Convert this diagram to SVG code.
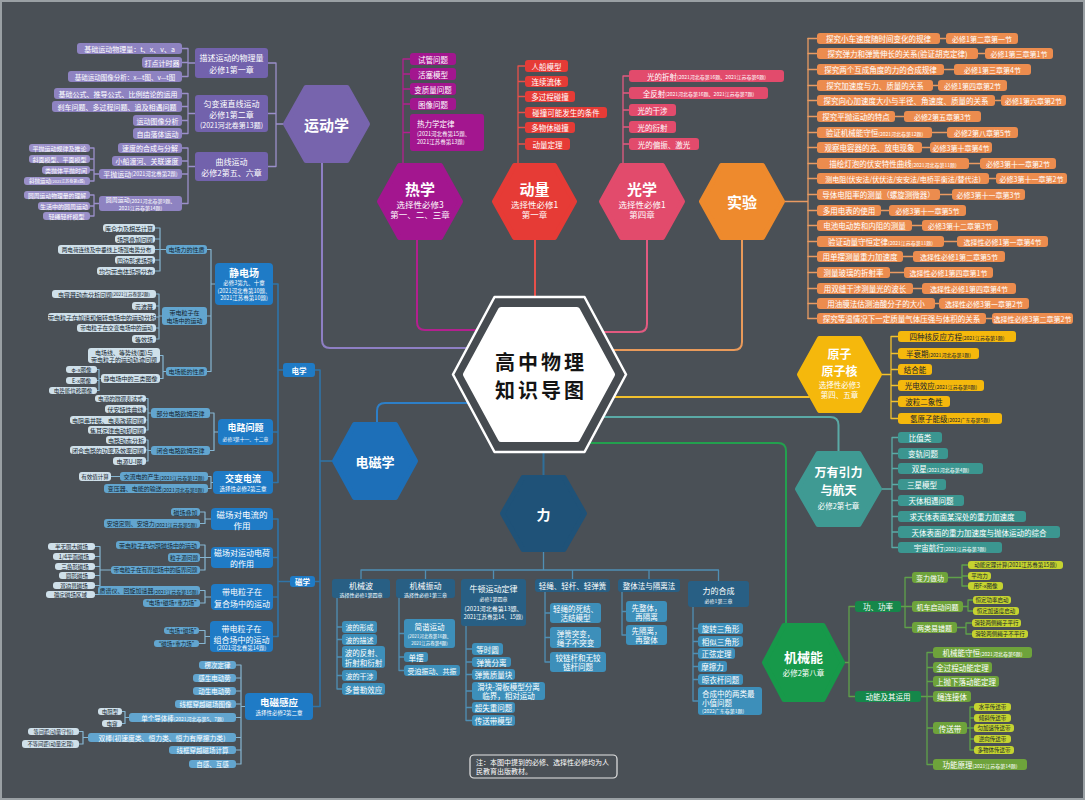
<svg xmlns="http://www.w3.org/2000/svg" width="1085" height="800" viewBox="0 0 1085 800">
<defs><style>
text{font-family:"Noto Sans CJK SC","Noto Sans",sans-serif;text-anchor:middle;dominant-baseline:central;fill:#fff}
.dk{fill:#15232c}
.bd{font-weight:bold}
.st{text-anchor:start}
.s45{font-size:4.5px}.s5{font-size:5px}.s55{font-size:5.5px}.s6{font-size:6px}.s65{font-size:6.5px}.s7{font-size:7px}.s75{font-size:7.5px}.s8{font-size:8px}.s9{font-size:9px}
.hx{stroke-width:5;stroke-linejoin:round}
.p1{fill:#7262ac}.p2{fill:#8e83c1}.p3{fill:#9a90c9}
.hm{fill:#a3168f}.rd{fill:#e63b36}.pk{fill:#e24b6c}.oe{fill:#ec8c4e}.yl{fill:#f5b80c}.tl{fill:#3b9690}
.g1{fill:#15874a}.g2{fill:#6ea33b}.g3{fill:#c5d330}
.b1{fill:#1f7bc6}.b2{fill:#62a5cf}.b3{fill:#cfe0ea}
.f1{fill:#285f84}.f2{fill:#3d8fba}
</style></defs>
<rect width="1085" height="800" fill="#4a5056"/>
<rect x="1" y="1" width="1083" height="798" fill="none" stroke="#9aa0a4" stroke-width="2"/>

<g id="connectors" fill="none" stroke-linecap="round" stroke-linejoin="round">
<g stroke-width="2">
<path stroke="#8e7fc4" d="M322,163 V340 Q322,348 330,348 H467"/>
<path stroke="#b3208f" d="M417,240 V322 Q417,330 425,330 H477"/>
<path stroke="#e8504a" d="M535,240 V297"/>
<path stroke="#e25a80" d="M647,240 V324 Q647,332 639,332 H603"/>
<path stroke="#e99a5a" d="M742,240 V342 Q742,350 734,350 H613"/>
<path stroke="#f2c12e" d="M614,397 H809"/>
<path stroke="#5aaaa6" d="M603,417 H830 Q838.5,417 838.5,425 V451"/>
<path stroke="#23a04e" d="M589,443 H778 Q786,443 786,451 V624"/>
<path stroke="#2d7fc8" d="M468,403 H385 Q377,403 377,411 V423"/>
<path stroke="#2f6f9a" d="M543.5,452 V476"/>
</g>
<g stroke="#9b8fca" stroke-width="1.3">
<path d="M276,63 V166.5 M268,63 H276 M268,113.5 H276 M268,166.5 H276 M276,124 H285"/>
<path d="M188,48.5 V76.5 M182,48.5 H188 M182,62.5 H188 M182,76.5 H188 M188,63 H195"/>
<path d="M188,93.5 V133.5 M182,93.5 H188 M182,106.5 H188 M182,120.5 H188 M182,133.5 H188 M188,113.5 H195"/>
<path d="M188,148 V203.5 M182,148 H188 M182,161 H188 M182,174 H188 M182,203.5 H188 M188,166.5 H195"/>
<path d="M94,148 V181 M90,148 H94 M90,159 H94 M90,170 H94 M90,181 H94 M94,174 H99"/>
<path d="M94,195 V216 M90,195 H94 M90,206 H94 M90,216 H94 M94,203.5 H99"/>
</g>
<g stroke="#b3208f" stroke-width="1.3"><path d="M403,59 V165 M403,59 H410 M403,74 H410 M403,89 H410 M403,104 H410 M403,132.5 H410"/></g>
<g stroke="#e8504a" stroke-width="1.3"><path d="M518,66 V165 M518,66 H525 M518,81.5 H525 M518,96.5 H525 M518,112.5 H525 M518,127.5 H525 M518,144 H525"/></g>
<g stroke="#e25a80" stroke-width="1.3"><path d="M623,76 V165 M623,76 H629 M623,93 H629 M623,110 H629 M623,127 H629 M623,144 H629"/></g>
<g stroke="#e99a62" stroke-width="1.3">
<path d="M785,201.5 H808 M808,38.5 V318.5"/>
<path d="M808,38.5 H817 M808,53.5 H817 M808,69.5 H817 M808,85.5 H817 M808,100.5 H817 M808,116.5 H817 M808,132.5 H817 M808,147.5 H817 M808,163.5 H817 M808,178.5 H817 M808,194.5 H817 M808,210.5 H817 M808,225.5 H817 M808,241.5 H817 M808,256.5 H817 M808,272.5 H817 M808,288.5 H817 M808,303.5 H817 M808,318.5 H817"/>
<path d="M940,38.5 H946 M978,53.5 H985 M944,69.5 H954 M933,85.5 H938 M995,100.5 H1001 M895,116.5 H904 M932,132.5 H947 M922,147.5 H930 M969,163.5 H980 M989,178.5 H996 M940,194.5 H952 M881,210.5 H889 M912,225.5 H922 M944,241.5 H957 M903,256.5 H913 M890,272.5 H904 M913,288.5 H922 M935,303.5 H939 M986,318.5 H992"/>
</g>
<g stroke="#f2c12e" stroke-width="1.3"><path d="M882,374.5 H891 M891,336.5 V418.5 M891,336.5 H898 M891,353.5 H898 M891,369.5 H898 M891,385.5 H898 M891,401.5 H898 M891,418.5 H898"/></g>
<g stroke="#5aaaa6" stroke-width="1.3"><path d="M882,489 H892 M892,437.5 V547.5 M892,437.5 H898 M892,453.5 H898 M892,468.5 H898 M892,484.5 H898 M892,500.5 H898 M892,516.5 H898 M892,532 H898 M892,547.5 H898"/></g>
<g stroke="#5fa14a" stroke-width="1.3">
<path d="M845,662.5 H849 M849,606.5 V696.5 M849,606.5 H855 M849,696.5 H855"/>
<path d="M901,606.5 H905 M905,577.5 V627.5 M905,577.5 H912 M905,606.5 H912 M905,627.5 H912"/>
<path d="M948,577.5 H962 M962,565 V586 M962,565 H968 M962,576 H968 M962,586 H968"/>
<path d="M963,606.5 H968 M968,600 V611 M968,600 H973 M968,611 H973"/>
<path d="M957,627.5 H966 M966,623 V634 M966,623 H972 M966,634 H972"/>
<path d="M921,696.5 H927 M927,652.5 V764.5 M927,652.5 H933 M927,667.5 H933 M927,681.5 H933 M927,696.5 H933 M927,728 H933 M927,764.5 H933"/>
<path d="M967,728 H970 M970,707 V750 M970,707 H974 M970,718 H974 M970,728 H974 M970,739 H974 M970,750 H974"/>
</g>
<g stroke="#2f74a8" stroke-width="1.6">
<path d="M320,370 V706.5 M315,370 H320 M315,581.5 H320 M313,706.5 H320 M320,461 H335"/>
<path d="M278,284 V482.5 M278,370 H283 M273,284 H278 M273,432 H278 M273,482.5 H278"/>
<path d="M278,519 V636.5 M278,581.5 H290 M273,519 H278 M273,557.5 H278 M273,597 H278 M273,636.5 H278"/>
</g>
<g stroke="#86b6d2" stroke-width="1.2">
<path d="M211,249.5 V371.5 M211,284 H215 M207,249.5 H211 M207,316 H211 M207,371.5 H211"/>
<path d="M160,228 V271 M160,249.5 H166 M155,228 H160 M155,239 H160 M155,249.5 H160 M155,260 H160 M155,271 H160"/>
<path d="M159,294 V339 M159,316 H162 M156,294 H159 M156,306 H159 M156,317 H159 M156,328 H159 M156,339 H159"/>
<path d="M163,355.5 V378.5 M163,371.5 H166 M160,355.5 H163 M160,378.5 H163"/>
<path d="M99,369.5 V390.5 M99,378.5 H101 M97,369.5 H99 M97,380.5 H99 M97,390.5 H99"/>
<path d="M214,413 V450.5 M214,432 H218 M210,413 H214 M210,450.5 H214"/>
<path d="M148,398.5 V430 M148,413 H151 M146,398.5 H148 M146,409 H148 M146,420 H148 M146,430 H148"/>
<path d="M148,440 V461 M148,450.5 H151 M146,440 H148 M146,450 H148 M146,461 H148"/>
<path d="M211,476.5 V488.5 M211,482.5 H213 M208,476.5 H211 M208,488.5 H211 M111,476.5 H120"/>
<path d="M205,512 V523.5 M205,519 H211 M200,512 H205 M200,523.5 H205"/>
<path d="M205,545 V570 M205,557.5 H211 M200,545 H205 M200,557.5 H205 M200,570 H205"/>
<path d="M100,546.5 V594.5 M100,570 H111 M95,546.5 H100 M95,556.5 H100 M95,566.5 H100 M95,575.5 H100 M95,585.5 H100 M95,594.5 H100"/>
<path d="M205,590.5 V603 M205,597 H211 M200,590.5 H205 M200,603 H205"/>
<path d="M205,630.5 V643.5 M205,636.5 H210 M199,630.5 H205 M199,643.5 H205"/>
<path d="M241,665 V764 M241,706.5 H245 M236,665 H241 M236,678 H241 M236,691 H241 M236,704 H241 M236,717.5 H241 M236,737.5 H241 M236,750 H241 M236,764 H241"/>
<path d="M125,711.5 V723.5 M125,717.5 H129 M122,711.5 H125 M122,723.5 H125"/>
<path d="M83,731.5 V744 M83,737.5 H88 M79,731.5 H83 M79,744 H83"/>
</g>
<g stroke="#4f8fb5" stroke-width="1.3">
<path d="M543.5,549.5 V570 M361,570 H718.5 M361,570 V579 M425.5,570 V579 M493.5,570 V579 M572.5,570 V579 M649,570 V579 M718.5,570 V581"/>
<path d="M337,598 V689 M337,627 H342 M337,639.5 H342 M337,657 H342 M337,675.5 H342 M337,689 H342"/>
<path d="M399,598 V670.5 M399,633.5 H404 M399,657 H404 M399,670.5 H404"/>
<path d="M466,626 V720.5 M466,649 H472 M466,662 H472 M466,674.5 H472 M466,691 H472 M466,707.5 H472 M466,720.5 H472"/>
<path d="M545,592 V662 M545,613 H550 M545,637.5 H550 M545,662 H550"/>
<path d="M622,592 V635 M622,611.5 H626 M622,635 H626"/>
<path d="M693,607 V701 M693,628.5 H698 M693,641.5 H698 M693,653.5 H698 M693,666.5 H698 M693,679.5 H698 M693,701 H698"/>
</g>
</g>

<g id="n-center">
<polygon points="453,374.5 494.5,297 584.5,297 626,374.5 584.5,452 494.5,452" fill="#464b50" stroke="#fff" stroke-width="2.5" stroke-linejoin="round"/>
<polygon points="466,374.5 501,310 577,310 612,374.5 577,439 501,439" fill="#fff" stroke="#fff" stroke-width="6" stroke-linejoin="round"/>
<text x="541" y="361" class="bd" style="font-size:20px;fill:#141414;letter-spacing:3px">高中物理</text>
<text x="541" y="389" class="bd" style="font-size:20px;fill:#141414;letter-spacing:3px">知识导图</text>
</g>

<g id="n-kinematics">
<polygon class="hx" points="285.5,124 306,87.5 347,87.5 367.5,124 347,160.5 306,160.5" fill="#7764ad" stroke="#7764ad"/>
<text x="326.5" y="124" class="bd" style="font-size:15px">运动学</text>
</g>
<g id="k-describe"><rect x="195" y="48" width="73" height="30" rx="3" class="p1"/><text x="231.5" y="57.5" class="s8">描述运动的物理量</text><text x="231.5" y="69.5" class="s8">必修1第一章</text></g>
<g id="k-uniform"><rect x="195" y="95" width="73" height="37" rx="3" class="p1"/><text x="231.5" y="103.5" class="s8">匀变速直线运动</text><text x="231.5" y="114" class="s8">必修1第二章</text><text x="231.5" y="124.5" class="s7">(2021河北卷第13题)</text></g>
<g id="k-curve"><rect x="195" y="152" width="73" height="29" rx="3" class="p1"/><text x="231.5" y="161" class="s8">曲线运动</text><text x="231.5" y="172.5" class="s8">必修2第五、六章</text></g>
<g id="k-l1"><rect x="77" y="43" width="105" height="11" rx="3" class="p2"/><text x="129.5" y="48.5" class="s7">基础运动物理量：t、x、v、a</text></g>
<g id="k-l2"><rect x="142" y="57" width="40" height="11" rx="3" class="p2"/><text x="162" y="62.5" class="s7">打点计时器</text></g>
<g id="k-l3"><rect x="68" y="71" width="114" height="11" rx="3" class="p2"/><text x="125" y="76.5" class="s65">基础运动图像分析：x—t图、v—t图</text></g>
<g id="k-l4"><rect x="54" y="88" width="128" height="11" rx="3" class="p2"/><text x="118" y="93.5" class="s7">基础公式、推导公式、比例结论的运用</text></g>
<g id="k-l5"><rect x="52" y="101" width="130" height="11" rx="3" class="p2"/><text x="117" y="106.5" class="s7">刹车问题、多过程问题、追及相遇问题</text></g>
<g id="k-l6"><rect x="133" y="115" width="49" height="11" rx="3" class="p2"/><text x="157.5" y="120.5" class="s7">运动图像分析</text></g>
<g id="k-l7"><rect x="133" y="128" width="49" height="11" rx="3" class="p2"/><text x="157.5" y="133.5" class="s7">自由落体运动</text></g>
<g id="k-l8"><rect x="118" y="143" width="64" height="10" rx="3" class="p2"/><text x="150" y="148" class="s7">速度的合成与分解</text></g>
<g id="k-l9"><rect x="112" y="156" width="70" height="10" rx="3" class="p2"/><text x="147" y="161" class="s7">小船渡河、关联速度</text></g>
<g id="k-l10"><rect x="99" y="169" width="83" height="10" rx="3" class="p2"/><text x="140.5" y="174" class="s7">平抛运动<tspan class="s55">(2021河北卷第2题)</tspan></text></g>
<g id="k-l11"><rect x="99" y="196" width="83" height="15" rx="3" class="p2"/><text x="140.5" y="199.8" class="s6">圆周运动<tspan class="s5">(2021河北卷第9题、</tspan></text><text x="140.5" y="207.3" class="s5">2021江苏卷第14题)</text></g>
<g id="k-s1"><rect x="29" y="144" width="61" height="8" rx="3" class="p3"/><text x="59.5" y="148" class="s6">平抛运动规律及推论</text></g>
<g id="k-s2"><rect x="29" y="155" width="61" height="8" rx="3" class="p3"/><text x="59.5" y="159" class="s6">斜面模型、平面模型</text></g>
<g id="k-s3"><rect x="42" y="166" width="48" height="8" rx="3" class="p3"/><text x="66" y="170" class="s6">类抛体平抛时间</text></g>
<g id="k-s4"><rect x="24" y="177" width="66" height="8" rx="3" class="p3"/><text x="57" y="181" class="s55">斜抛运动<tspan style="font-size:4px">(2021江苏卷第8题)</tspan></text></g>
<g id="k-s5"><rect x="24" y="191" width="66" height="8" rx="3" class="p3"/><text x="57" y="195" style="font-size:5.8px">圆周运动物理量的理解</text></g>
<g id="k-s6"><rect x="38" y="202" width="52" height="8" rx="3" class="p3"/><text x="64" y="206" class="s6">生活中的圆周运动</text></g>
<g id="k-s7"><rect x="43" y="212" width="47" height="8" rx="3" class="p3"/><text x="66.5" y="216" class="s6">轻绳轻杆模型</text></g>

<g id="n-heat">
<polygon class="hx" points="379.5,201.5 399.5,165.5 440.5,165.5 460.5,201.5 440.5,237.5 399.5,237.5" fill="#a3168f" stroke="#a3168f"/>
<text x="420" y="188" class="bd" style="font-size:15px">热学</text><text x="420" y="203.5" style="font-size:8.5px">选择性必修3</text><text x="420" y="214" style="font-size:8.5px">第一、二、三章</text>
</g>
<g id="h-1"><rect x="410" y="53" width="46" height="12" rx="3" class="hm"/><text x="433" y="59" class="s75">试管问题</text></g>
<g id="h-2"><rect x="410" y="68" width="46" height="12" rx="3" class="hm"/><text x="433" y="74" class="s75">活塞模型</text></g>
<g id="h-3"><rect x="410" y="83" width="46" height="12" rx="3" class="hm"/><text x="433" y="89" class="s75">变质量问题</text></g>
<g id="h-4"><rect x="410" y="98" width="46" height="12" rx="3" class="hm"/><text x="433" y="104" class="s75">图像问题</text></g>
<g id="h-5"><rect x="410" y="114" width="74" height="37" rx="3" class="hm"/><text x="417" y="123" class="s75 st">热力学定律</text><text x="417" y="134" class="s55 st">(2021河北卷第15题、</text><text x="417" y="142" class="s55 st">2021江苏卷第13题)</text></g>

<g id="n-momentum">
<polygon class="hx" points="494.5,201.5 514.5,165.5 554.5,165.5 574.5,201.5 554.5,237.5 514.5,237.5" fill="#e63b36" stroke="#e63b36"/>
<text x="534.5" y="188" class="bd" style="font-size:15px">动量</text><text x="534.5" y="203.5" style="font-size:8.5px">选择性必修1</text><text x="534.5" y="214" style="font-size:8.5px">第一章</text>
</g>
<g id="m-1"><rect x="525" y="60" width="43" height="12" rx="3" class="rd"/><text x="546.5" y="66" class="s75">人船模型</text></g>
<g id="m-2"><rect x="525" y="76" width="43" height="11" rx="3" class="rd"/><text x="546.5" y="81.5" class="s75">连续流体</text></g>
<g id="m-3"><rect x="525" y="91" width="50" height="11" rx="3" class="rd"/><text x="550" y="96.5" class="s75">多过程碰撞</text></g>
<g id="m-4"><rect x="525" y="107" width="82" height="11" rx="3" class="rd"/><text x="566" y="112.5" class="s75">碰撞可能发生的条件</text></g>
<g id="m-5"><rect x="525" y="122" width="50" height="11" rx="3" class="rd"/><text x="550" y="127.5" class="s75">多物体碰撞</text></g>
<g id="m-6"><rect x="525" y="138" width="45" height="12" rx="3" class="rd"/><text x="547.5" y="144" class="s75">动量定理</text></g>

<g id="n-optics">
<polygon class="hx" points="601.5,201.5 621.5,165.5 662.5,165.5 682.5,201.5 662.5,237.5 621.5,237.5" fill="#e24b6c" stroke="#e24b6c"/>
<text x="642" y="188" class="bd" style="font-size:15px">光学</text><text x="642" y="203.5" style="font-size:8.5px">选择性必修1</text><text x="642" y="214" style="font-size:8.5px">第四章</text>
</g>
<g id="o-1"><rect x="629" y="70" width="155" height="12" rx="3" class="pk"/><text x="706.5" y="76" class="s75">光的折射<tspan class="s5">(2021河北卷第16题、2021江苏卷第6题)</tspan></text></g>
<g id="o-2"><rect x="629" y="87" width="139" height="12" rx="3" class="pk"/><text x="698.5" y="93" class="s75">全反射<tspan class="s5">(2021河北卷第16题、2021江苏卷第7题)</tspan></text></g>
<g id="o-3"><rect x="629" y="104" width="47" height="12" rx="3" class="pk"/><text x="652.5" y="110" class="s75">光的干涉</text></g>
<g id="o-4"><rect x="629" y="121" width="47" height="12" rx="3" class="pk"/><text x="652.5" y="127" class="s75">光的衍射</text></g>
<g id="o-5"><rect x="629" y="138" width="70" height="12" rx="3" class="pk"/><text x="664" y="144" class="s75">光的偏振、激光</text></g>

<g id="n-experiment">
<polygon class="hx" points="701.5,201.5 721.5,165.5 762.5,165.5 782.5,201.5 762.5,237.5 721.5,237.5" fill="#ee8a2d" stroke="#ee8a2d"/>
<text x="742" y="201.5" class="bd" style="font-size:15px">实验</text>
</g>
<g id="e-1"><rect x="817" y="33" width="123" height="11" rx="3" class="oe"/><text x="878.5" y="38.5" class="s75">探究小车速度随时间变化的规律</text><rect x="946" y="33" width="72" height="11" rx="3" class="oe"/><text x="982" y="38.5" class="s7">必修1第二章第一节</text></g>
<g id="e-2"><rect x="817" y="48" width="161" height="11" rx="3" class="oe"/><text x="897.5" y="53.5" class="s75">探究弹力和弹簧伸长的关系(验证胡克定律)</text><rect x="985" y="48" width="68" height="11" rx="3" class="oe"/><text x="1019" y="53.5" class="s7">必修1第三章第1节</text></g>
<g id="e-3"><rect x="817" y="64" width="127" height="11" rx="3" class="oe"/><text x="880.5" y="69.5" class="s75">探究两个互成角度的力的合成规律</text><rect x="954" y="64" width="77" height="11" rx="3" class="oe"/><text x="992.5" y="69.5" class="s7">必修1第三章第4节</text></g>
<g id="e-4"><rect x="817" y="80" width="116" height="11" rx="3" class="oe"/><text x="875" y="85.5" class="s75">探究加速度与力、质量的关系</text><rect x="938" y="80" width="69" height="11" rx="3" class="oe"/><text x="972.5" y="85.5" class="s7">必修1第四章第2节</text></g>
<g id="e-5"><rect x="817" y="95" width="178" height="11" rx="3" class="oe"/><text x="906" y="100.5" class="s75">探究向心加速度大小与半径、角速度、质量的关系</text><rect x="1001" y="95" width="65" height="11" rx="3" class="oe"/><text x="1033.5" y="100.5" class="s7">必修1第六章第2节</text></g>
<g id="e-6"><rect x="817" y="111" width="78" height="11" rx="3" class="oe"/><text x="856" y="116.5" class="s75">探究平抛运动的特点</text><rect x="904" y="111" width="77" height="11" rx="3" class="oe"/><text x="942.5" y="116.5" class="s7">必修2第五章第3节</text></g>
<g id="e-7"><rect x="817" y="127" width="115" height="11" rx="3" class="oe"/><text x="874.5" y="132.5" class="s75">验证机械能守恒<tspan class="s5">(2021河北卷第12题)</tspan></text><rect x="947" y="127" width="71" height="11" rx="3" class="oe"/><text x="982.5" y="132.5" class="s7">必修2第八章第5节</text></g>
<g id="e-8"><rect x="817" y="142" width="105" height="11" rx="3" class="oe"/><text x="869.5" y="147.5" class="s75">观察电容器的充、放电现象</text><rect x="930" y="142" width="62" height="11" rx="3" class="oe"/><text x="961" y="147.5" class="s7">必修3第十章第4节</text></g>
<g id="e-9"><rect x="817" y="158" width="152" height="11" rx="3" class="oe"/><text x="893" y="163.5" class="s75">描绘灯泡的伏安特性曲线<tspan class="s5">(2021河北卷第11题)</tspan></text><rect x="980" y="158" width="76" height="11" rx="3" class="oe"/><text x="1018" y="163.5" class="s7">必修3第十一章第2节</text></g>
<g id="e-10"><rect x="817" y="173" width="172" height="11" rx="3" class="oe"/><text x="903" y="178.5" class="s7">测电阻(伏安法/伏伏法/安安法/电桥平衡法/替代法)</text><rect x="996" y="173" width="71" height="11" rx="3" class="oe"/><text x="1031.5" y="178.5" class="s7">必修3第十一章第2节</text></g>
<g id="e-11"><rect x="817" y="189" width="123" height="11" rx="3" class="oe"/><text x="878.5" y="194.5" class="s75">导体电阻率的测量（螺旋测微器）</text><rect x="952" y="189" width="73" height="11" rx="3" class="oe"/><text x="988.5" y="194.5" class="s7">必修3第十一章第3节</text></g>
<g id="e-12"><rect x="817" y="205" width="64" height="11" rx="3" class="oe"/><text x="849" y="210.5" class="s75">多用电表的使用</text><rect x="889" y="205" width="77" height="11" rx="3" class="oe"/><text x="927.5" y="210.5" class="s7">必修3第十一章第5节</text></g>
<g id="e-13"><rect x="817" y="220" width="95" height="11" rx="3" class="oe"/><text x="864.5" y="225.5" class="s75">电池电动势和内阻的测量</text><rect x="922" y="220" width="76" height="11" rx="3" class="oe"/><text x="960" y="225.5" class="s7">必修3第十二章第3节</text></g>
<g id="e-14"><rect x="817" y="236" width="127" height="11" rx="3" class="oe"/><text x="880.5" y="241.5" class="s75">验证动量守恒定律<tspan class="s5">(2021江苏卷第11题)</tspan></text><rect x="957" y="236" width="91" height="11" rx="3" class="oe"/><text x="1002.5" y="241.5" class="s7">选择性必修1第一章第4节</text></g>
<g id="e-15"><rect x="817" y="251" width="86" height="11" rx="3" class="oe"/><text x="860" y="256.5" class="s75">用单摆测量重力加速度</text><rect x="913" y="251" width="92" height="11" rx="3" class="oe"/><text x="959" y="256.5" class="s7">选择性必修1第二章第5节</text></g>
<g id="e-16"><rect x="817" y="267" width="73" height="11" rx="3" class="oe"/><text x="853.5" y="272.5" class="s75">测量玻璃的折射率</text><rect x="904" y="267" width="89" height="11" rx="3" class="oe"/><text x="948.5" y="272.5" class="s7">选择性必修1第四章第1节</text></g>
<g id="e-17"><rect x="817" y="283" width="96" height="11" rx="3" class="oe"/><text x="865" y="288.5" class="s75">用双缝干涉测量光的波长</text><rect x="922" y="283" width="94" height="11" rx="3" class="oe"/><text x="969" y="288.5" class="s7">选择性必修1第四章第4节</text></g>
<g id="e-18"><rect x="817" y="298" width="118" height="11" rx="3" class="oe"/><text x="876" y="303.5" class="s75">用油膜法估测油酸分子的大小</text><rect x="939" y="298" width="90" height="11" rx="3" class="oe"/><text x="984" y="303.5" class="s7">选择性必修3第一章第2节</text></g>
<g id="e-19"><rect x="817" y="313" width="169" height="11" rx="3" class="oe"/><text x="901.5" y="318.5" class="s75">探究等温情况下一定质量气体压强与体积的关系</text><rect x="992" y="313" width="81" height="11" rx="3" class="oe"/><text x="1032.5" y="318.5" class="s7">选择性必修3第二章第2节</text></g>

<g id="n-atom">
<polygon class="hx" points="799.5,374.5 819.5,338.5 859.5,338.5 879.5,374.5 859.5,410.5 819.5,410.5" fill="#f5b80c" stroke="#f5b80c"/>
<text x="839.5" y="353.5" class="bd" style="font-size:12px">原子</text><text x="839.5" y="370.5" class="bd" style="font-size:12px">原子核</text><text x="839.5" y="384.5" class="s75">选择性必修3</text><text x="839.5" y="394" class="s75">第四、五章</text>
</g>
<g id="a-1"><rect x="898" y="331" width="118" height="11" rx="3" class="yl"/><text x="957" y="336.5" class="s75 dk">四种核反应方程<tspan class="s5">(2021江苏卷第1题)</tspan></text></g>
<g id="a-2"><rect x="898" y="348" width="81" height="11" rx="3" class="yl"/><text x="938.5" y="353.5" class="s75 dk">半衰期<tspan class="s5">(2021河北卷第1题)</tspan></text></g>
<g id="a-3"><rect x="898" y="364" width="34" height="11" rx="3" class="yl"/><text x="915" y="369.5" class="s75 dk">结合能</text></g>
<g id="a-4"><rect x="898" y="380" width="86" height="11" rx="3" class="yl"/><text x="941" y="385.5" class="s75 dk">光电效应<tspan class="s5">(2021江苏卷第8题)</tspan></text></g>
<g id="a-5"><rect x="898" y="396" width="52" height="11" rx="3" class="yl"/><text x="924" y="401.5" class="s75 dk">波粒二象性</text></g>
<g id="a-6"><rect x="898" y="413" width="104" height="11" rx="3" class="yl"/><text x="950" y="418.5" class="s75 dk">氢原子能级<tspan class="s5">(2022广东卷第5题)</tspan></text></g>

<g id="n-gravity">
<polygon class="hx" points="797.5,489 818,453.5 859,453.5 879.5,489 859,524.5 818,524.5" fill="#3f9a93" stroke="#3f9a93"/>
<text x="838.5" y="471.5" class="bd" style="font-size:12px">万有引力</text><text x="838.5" y="489.5" class="bd" style="font-size:12px">与航天</text><text x="838.5" y="505" class="s75">必修2第七章</text>
</g>
<g id="w-1"><rect x="898" y="432" width="44" height="11" rx="3" class="tl"/><text x="920" y="437.5" class="s75">比值类</text></g>
<g id="w-2"><rect x="898" y="448" width="50" height="11" rx="3" class="tl"/><text x="923" y="453.5" class="s75">变轨问题</text></g>
<g id="w-3"><rect x="898" y="463" width="85" height="11" rx="3" class="tl"/><text x="940.5" y="468.5" class="s75">双星<tspan class="s5">(2021河北卷第4题)</tspan></text></g>
<g id="w-4"><rect x="898" y="479" width="48" height="11" rx="3" class="tl"/><text x="922" y="484.5" class="s75">三星模型</text></g>
<g id="w-5"><rect x="898" y="495" width="66" height="11" rx="3" class="tl"/><text x="931" y="500.5" class="s75">天体相遇问题</text></g>
<g id="w-6"><rect x="898" y="511" width="128" height="11" rx="3" class="tl"/><text x="962" y="516.5" class="s75">求天体表面某深处的重力加速度</text></g>
<g id="w-7"><rect x="898" y="526" width="162" height="12" rx="3" class="tl"/><text x="979" y="532" class="s75">天体表面的重力加速度与抛体运动的综合</text></g>
<g id="w-8"><rect x="898" y="542" width="104" height="11" rx="3" class="tl"/><text x="950" y="547.5" class="s75">宇宙航行<tspan class="s5">(2021江苏卷第3题)</tspan></text></g>

<g id="n-mech">
<polygon class="hx" points="764.5,662.5 784,625.5 823,625.5 842.5,662.5 823,699.5 784,699.5" fill="#17994a" stroke="#17994a"/>
<text x="803.5" y="656" class="bd" style="font-size:13px">机械能</text><text x="803.5" y="672" class="s75">必修2第八章</text>
</g>
<g id="me-1"><rect x="855" y="601" width="46" height="11" rx="3" class="g1"/><text x="878" y="606.5" class="s75">功、功率</text></g>
<g id="me-2"><rect x="855" y="691" width="66" height="11" rx="3" class="g1"/><text x="888" y="696.5" class="s75">动能及其运用</text></g>
<g id="me-3"><rect x="912" y="572" width="36" height="11" rx="3" class="g2"/><text x="930" y="577.5" class="s7">变力做功</text></g>
<g id="me-4"><rect x="912" y="601" width="51" height="11" rx="3" class="g2"/><text x="937.5" y="606.5" class="s7">机车启动问题</text></g>
<g id="me-5"><rect x="912" y="622" width="45" height="11" rx="3" class="g2"/><text x="934.5" y="627.5" class="s7">两类易错题</text></g>
<g id="me-6"><rect x="968" y="561" width="95" height="8" rx="3" class="g3"/><text x="1015.5" y="565" class="s55 dk">动能定理计算(2021江苏卷第15题)</text></g>
<g id="me-7"><rect x="968" y="572" width="23" height="8" rx="3" class="g3"/><text x="979.5" y="576" class="s55 dk">平均力</text></g>
<g id="me-8"><rect x="968" y="582" width="35" height="8" rx="3" class="g3"/><text x="985.5" y="586" class="s55 dk">用F-x图像</text></g>
<g id="me-9"><rect x="973" y="596" width="38" height="8" rx="3" class="g3"/><text x="992" y="600" class="s55 dk">恒定功率启动</text></g>
<g id="me-10"><rect x="973" y="607" width="46" height="8" rx="3" class="g3"/><text x="996" y="611" class="s55 dk">恒定加速度启动</text></g>
<g id="me-11"><rect x="972" y="619" width="49" height="8" rx="3" class="g3"/><text x="996.5" y="623" class="s55 dk">滑轮两侧绳子平行</text></g>
<g id="me-12"><rect x="972" y="630" width="56" height="8" rx="3" class="g3"/><text x="1000" y="634" class="s55 dk">滑轮两侧绳子不平行</text></g>
<g id="me-13"><rect x="933" y="647" width="99" height="11" rx="3" class="g2"/><text x="982.5" y="652.5" class="s75">机械能守恒<tspan class="s5">(2021河北卷第6题)</tspan></text></g>
<g id="me-14"><rect x="933" y="662" width="59" height="11" rx="3" class="g2"/><text x="962.5" y="667.5" class="s75">全过程动能定理</text></g>
<g id="me-15"><rect x="933" y="676" width="66" height="11" rx="3" class="g2"/><text x="966" y="681.5" class="s75">上抛下落动能定理</text></g>
<g id="me-16"><rect x="933" y="691" width="38" height="11" rx="3" class="g2"/><text x="952" y="696.5" class="s75">绳连接体</text></g>
<g id="me-17"><rect x="933" y="722" width="34" height="12" rx="3" class="g2"/><text x="950" y="728" class="s75">传送带</text></g>
<g id="me-18"><rect x="933" y="759" width="94" height="11" rx="3" class="g2"/><text x="980" y="764.5" class="s75">功能原理<tspan class="s5">(2021江苏卷第14题)</tspan></text></g>
<g id="me-19"><rect x="974" y="703" width="37" height="8" rx="3" class="g3"/><text x="992.5" y="707" class="s55 dk">水平传送带</text></g>
<g id="me-20"><rect x="974" y="714" width="37" height="8" rx="3" class="g3"/><text x="992.5" y="718" class="s55 dk">倾斜传送带</text></g>
<g id="me-21"><rect x="974" y="724" width="40" height="8" rx="3" class="g3"/><text x="994" y="728" class="s55 dk">匀加速传送带</text></g>
<g id="me-22"><rect x="974" y="735" width="37" height="8" rx="3" class="g3"/><text x="992.5" y="739" class="s55 dk">逆向传送带</text></g>
<g id="me-23"><rect x="974" y="746" width="40" height="8" rx="3" class="g3"/><text x="994" y="750" class="s55 dk">多物体传送带</text></g>

<g id="n-em">
<polygon class="hx" points="334.5,461 354.5,424.5 395.5,424.5 415.5,461 395.5,497.5 354.5,497.5" fill="#1d6fb8" stroke="#1d6fb8"/>
<text x="375" y="461" class="bd" style="font-size:13px">电磁学</text>
</g>
<g id="em-elec"><rect x="283" y="363" width="32" height="14" rx="3" class="b1"/><text x="299" y="370" class="s75 bd">电学</text></g>
<g id="em-mag"><rect x="290" y="576" width="25" height="11" rx="3" class="b1"/><text x="302.5" y="581.5" class="s75 bd">磁学</text></g>
<g id="em-1"><rect x="215" y="263" width="58" height="42" rx="4" class="b1"/><text x="244" y="272" class="bd" style="font-size:10px">静电场</text><text x="244" y="282.5" class="s55">必修3第九、十章</text><text x="244" y="290.5" class="s55">(2021河北卷第10题、</text><text x="244" y="298" class="s55">2021江苏卷第10题)</text></g>
<g id="em-2"><rect x="218" y="419" width="55" height="26" rx="4" class="b1"/><text x="245.5" y="427.5" class="s9 bd">电路问题</text><text x="245.5" y="438.5" style="font-size:4.8px">必修3第十一、十二章</text></g>
<g id="em-3"><rect x="213" y="471" width="60" height="23" rx="4" class="b1"/><text x="243" y="478.5" class="s9 bd">交变电流</text><text x="243" y="488.5" class="s55">选择性必修2第三章</text></g>
<g id="em-4"><rect x="211" y="508" width="62" height="22" rx="4" class="b1"/><text x="242" y="514" style="font-size:8.5px">磁场对电流的</text><text x="242" y="524.5" style="font-size:8.5px">作用</text></g>
<g id="em-5"><rect x="211" y="547" width="62" height="21" rx="4" class="b1"/><text x="242" y="552.5" class="s8">磁场对运动电荷</text><text x="242" y="563" class="s8">的作用</text></g>
<g id="em-6"><rect x="211" y="584" width="62" height="26" rx="4" class="b1"/><text x="242" y="591" class="s8">带电粒子在</text><text x="242" y="603" class="s8">复合场中的运动</text></g>
<g id="em-7"><rect x="210" y="621" width="63" height="31" rx="4" class="b1"/><text x="241.5" y="628" class="s8">带电粒子在</text><text x="241.5" y="639" class="s8">组合场中的运动</text><text x="241.5" y="648" class="s55">(2021河北卷第14题)</text></g>
<g id="em-8"><rect x="245" y="693" width="68" height="27" rx="4" class="b1"/><text x="279" y="701.5" class="bd" style="font-size:9.5px">电磁感应</text><text x="279" y="713" class="s55">选择性必修2第二章</text></g>

<g id="es-1"><rect x="166" y="245" width="41" height="9" rx="3" class="b2"/><text x="186.5" y="249.5" class="s6 dk">电场力的性质</text></g>
<g id="es-2"><rect x="162" y="307" width="45" height="18" rx="3" class="b2"/><text x="184.5" y="312" class="s6 dk">带电粒子在</text><text x="184.5" y="320.5" class="s6 dk">电场中的运动</text></g>
<g id="es-3"><rect x="166" y="367" width="41" height="9" rx="3" class="b2"/><text x="186.5" y="371.5" class="s6 dk">电场能的性质</text></g>
<g id="es-4"><rect x="151" y="408" width="59" height="10" rx="3" class="b2"/><text x="180.5" y="413" class="s6 dk">部分电路欧姆定律</text></g>
<g id="es-5"><rect x="151" y="446" width="59" height="9" rx="3" class="b2"/><text x="180.5" y="450.5" class="s6 dk">闭合电路欧姆定律</text></g>
<g id="es-6"><rect x="120" y="472" width="88" height="9" rx="3" class="b2"/><text x="164" y="476.5" class="s6 dk">交流电的产生<tspan class="s5">(2021江苏卷第12题)</tspan></text></g>
<g id="es-7"><rect x="104" y="484" width="104" height="9" rx="3" class="b2"/><text x="156" y="488.5" class="s6 dk">变压器、电能的输送<tspan class="s5">(2021河北卷第8题)</tspan></text></g>
<g id="es-8"><rect x="171" y="508" width="29" height="8" rx="3" class="b2"/><text x="185.5" y="512" class="s6 dk">磁场叠加</text></g>
<g id="es-9"><rect x="104" y="519" width="96" height="9" rx="3" class="b2"/><text x="152" y="523.5" class="s6 dk">安培定则、安培力<tspan class="s5">(2021江苏卷第5题)</tspan></text></g>
<g id="es-10"><rect x="116" y="541" width="84" height="8" rx="3" class="b2"/><text x="158" y="545" class="s6 dk">带电粒子在匀强磁场中的运动</text></g>
<g id="es-11"><rect x="168" y="553" width="32" height="9" rx="3" class="b2"/><text x="184" y="557.5" style="font-size:5.6px" class="dk">粒子源问题</text></g>
<g id="es-12"><rect x="111" y="566" width="89" height="8" rx="3" class="b2"/><text x="155.5" y="570" style="font-size:5.6px" class="dk">带电粒子在有界磁场中的临界问题</text></g>
<g id="es-13"><rect x="98" y="586" width="102" height="9" rx="3" class="b2"/><text x="149" y="590.5" class="s6 dk">质谱仪、回旋加速器<tspan class="s5">(2021江苏卷第15题)</tspan></text></g>
<g id="es-14"><rect x="143" y="599" width="57" height="8" rx="3" class="b2"/><text x="171.5" y="603" style="font-size:5.6px" class="dk">“电场+磁场+重力场”</text></g>
<g id="es-15"><rect x="164" y="627" width="35" height="7" rx="3" class="b2"/><text x="181.5" y="630.5" class="s55 dk">“电场+磁场”</text></g>
<g id="es-16"><rect x="154" y="640" width="45" height="7" rx="3" class="b2"/><text x="176.5" y="643.5" class="s55 dk">“磁场+重力场”</text></g>
<g id="es-17"><rect x="199" y="661" width="37" height="8" rx="3" class="b2"/><text x="217.5" y="665" class="s65">楞次定律</text></g>
<g id="es-18"><rect x="193" y="674" width="43" height="8" rx="3" class="b2"/><text x="214.5" y="678" class="s65">感生电动势</text></g>
<g id="es-19"><rect x="193" y="687" width="43" height="8" rx="3" class="b2"/><text x="214.5" y="691" class="s65">动生电动势</text></g>
<g id="es-20"><rect x="175" y="700" width="61" height="8" rx="3" class="b2"/><text x="205.5" y="704" class="s65">线框穿越磁场图像</text></g>
<g id="es-21"><rect x="129" y="713" width="107" height="9" rx="3" class="b2"/><text x="182.5" y="717.5" class="s65">单个导体棒<tspan class="s5">(2021河北卷第5、7题)</tspan></text></g>
<g id="es-22"><rect x="88" y="733" width="148" height="9" rx="3" class="b2"/><text x="162" y="737.5" style="font-size:6.8px">双棒(初速度类、恒力类、恒力有摩擦力类)</text></g>
<g id="es-23"><rect x="169" y="746" width="67" height="8" rx="3" class="b2"/><text x="202.5" y="750" class="s65">线框穿越磁场计算</text></g>
<g id="es-24"><rect x="189" y="760" width="47" height="8" rx="3" class="b2"/><text x="212.5" y="764" class="s65">自感、互感</text></g>

<g id="el-1"><rect x="103" y="224" width="52" height="8" rx="3" class="b3"/><text x="129" y="228" class="s6 dk">库仑力及相关计算</text></g>
<g id="el-2"><rect x="115" y="235" width="40" height="8" rx="3" class="b3"/><text x="135" y="239" class="s6 dk">场强叠加问题</text></g>
<g id="el-3"><rect x="58" y="245" width="97" height="9" rx="3" class="b3"/><text x="106.5" y="249.5" style="font-size:5.6px" class="dk">两电荷连线及中垂线上场强电势分布</text></g>
<g id="el-4"><rect x="115" y="256" width="40" height="8" rx="3" class="b3"/><text x="135" y="260" class="s6 dk">四边形求场强</text></g>
<g id="el-5"><rect x="97" y="267" width="58" height="8" rx="3" class="b3"/><text x="126" y="271" class="s6 dk">均匀带电体场强分布</text></g>
<g id="el-6"><rect x="52" y="290" width="104" height="8" rx="3" class="b3"/><text x="104" y="294" class="s6 dk">电容器动态分析问题<tspan class="s45">(2021江苏卷第2题)</tspan></text></g>
<g id="el-7"><rect x="132" y="302" width="24" height="8" rx="3" class="b3"/><text x="144" y="306" class="s6 dk">示波器</text></g>
<g id="el-8"><rect x="48" y="313" width="108" height="8" rx="3" class="b3"/><text x="102" y="317" class="s6 dk">带电粒子在加速和偏转电场中的运动分析</text></g>
<g id="el-9"><rect x="77" y="324" width="79" height="8" rx="3" class="b3"/><text x="116.5" y="328" style="font-size:5.6px" class="dk">带电粒子在交变电场中的运动</text></g>
<g id="el-10"><rect x="132" y="335" width="24" height="8" rx="3" class="b3"/><text x="144" y="339" class="s6 dk">等效场</text></g>
<g id="el-11"><rect x="88" y="348" width="72" height="15" rx="3" class="b3"/><text x="124" y="352" class="s6 dk">电场线、等势线(面)与</text><text x="124" y="359.5" class="s6 dk">带电粒子的运动轨迹问题</text></g>
<g id="el-12"><rect x="101" y="374" width="59" height="9" rx="3" class="b3"/><text x="130.5" y="378.5" class="s6 dk">静电场中的三类图像</text></g>
<g id="el-13"><rect x="66" y="366" width="31" height="7" rx="3" class="b3"/><text x="81.5" y="369.5" class="s55 dk">φ-x图像</text></g>
<g id="el-14"><rect x="66" y="377" width="31" height="7" rx="3" class="b3"/><text x="81.5" y="380.5" class="s55 dk">E-x图像</text></g>
<g id="el-15"><rect x="49" y="387" width="48" height="7" rx="3" class="b3"/><text x="73" y="390.5" class="s55 dk">电势能位移图像</text></g>
<g id="el-16"><rect x="95" y="395" width="51" height="7" rx="3" class="b3"/><text x="120.5" y="398.5" style="font-size:5.6px" class="dk">电流的微观表达式</text></g>
<g id="el-17"><rect x="105" y="405" width="41" height="8" rx="3" class="b3"/><text x="125.5" y="409" class="s6 dk">伏安特性曲线</text></g>
<g id="el-18"><rect x="70" y="416" width="76" height="8" rx="3" class="b3"/><text x="108" y="420" class="s6 dk">电阻串并联、电表改装问题</text></g>
<g id="el-19"><rect x="88" y="426" width="58" height="8" rx="3" class="b3"/><text x="117" y="430" class="s6 dk">焦耳定律电动机问题</text></g>
<g id="el-20"><rect x="106" y="436" width="40" height="8" rx="3" class="b3"/><text x="126" y="440" class="s6 dk">电路动态分析</text></g>
<g id="el-21"><rect x="70" y="446" width="76" height="8" rx="3" class="b3"/><text x="108" y="450" class="s6 dk">闭合电路的功率及效率问题</text></g>
<g id="el-22"><rect x="113" y="457" width="33" height="8" rx="3" class="b3"/><text x="129.5" y="461" class="s6 dk">电源U-I图</text></g>
<g id="el-23"><rect x="79" y="472" width="32" height="9" rx="3" class="b3"/><text x="95" y="476.5" class="s55 dk">有效值计算</text></g>
<g id="el-24"><rect x="48" y="543" width="47" height="7" rx="3" class="b3"/><text x="71.5" y="546.5" class="s55 dk">半无限大磁场</text></g>
<g id="el-25"><rect x="53" y="553" width="42" height="7" rx="3" class="b3"/><text x="74" y="556.5" class="s55 dk">1/4平面磁场</text></g>
<g id="el-26"><rect x="55" y="563" width="40" height="7" rx="3" class="b3"/><text x="75" y="566.5" class="s55 dk">三角形磁场</text></g>
<g id="el-27"><rect x="59" y="572" width="36" height="7" rx="3" class="b3"/><text x="77" y="575.5" class="s55 dk">圆形磁场</text></g>
<g id="el-28"><rect x="53" y="582" width="42" height="7" rx="3" class="b3"/><text x="74" y="585.5" class="s55 dk">双边界磁场</text></g>
<g id="el-29"><rect x="46" y="591" width="49" height="7" rx="3" class="b3"/><text x="70.5" y="594.5" class="s55 dk">确定磁场区域</text></g>
<g id="el-30"><rect x="98" y="708" width="24" height="7" rx="3" class="b3"/><text x="110" y="711.5" class="s55 dk">电阻型</text></g>
<g id="el-31"><rect x="102" y="720" width="20" height="7" rx="3" class="b3"/><text x="112" y="723.5" class="s55 dk">电容</text></g>
<g id="el-32"><rect x="28" y="728" width="51" height="7" rx="3" class="b3"/><text x="53.5" y="731.5" style="font-size:5.2px" class="dk">等间距(动量守恒)</text></g>
<g id="el-33"><rect x="22" y="740" width="57" height="8" rx="3" class="b3"/><text x="50.5" y="744" style="font-size:5.3px" class="dk">不等间距(动量定理)</text></g>

<g id="n-force">
<polygon class="hx" points="502.5,513.5 523,477.5 564,477.5 584.5,513.5 564,549.5 523,549.5" fill="#1f5278" stroke="#1f5278"/>
<text x="543.5" y="513.5" class="bd" style="font-size:14px">力</text>
</g>
<g id="f-1"><rect x="332" y="579" width="58" height="19" rx="3" class="f1"/><text x="361" y="585" class="s8">机械波</text><text x="361" y="594" class="s5">选择性必修1第四章</text></g>
<g id="f-2"><rect x="396" y="579" width="59" height="19" rx="3" class="f1"/><text x="425.5" y="585" class="s8">机械振动</text><text x="425.5" y="594" class="s5">选择性必修1第三章</text></g>
<g id="f-3"><rect x="461" y="579" width="65" height="47" rx="3" class="f1"/><text x="493.5" y="588" class="s8">牛顿运动定律</text><text x="493.5" y="598" class="s5">必修1第四章</text><text x="493.5" y="608" class="s6">(2021河北卷第13题、</text><text x="493.5" y="617" class="s55">2021江苏卷第14、15题)</text></g>
<g id="f-4"><rect x="535" y="579" width="75" height="13" rx="3" class="f1"/><text x="572.5" y="585.5" class="s75">轻绳、轻杆、轻弹簧</text></g>
<g id="f-5"><rect x="618" y="579" width="62" height="13" rx="3" class="f1"/><text x="649" y="585.5" class="s75">整体法与隔离法</text></g>
<g id="f-6"><rect x="688" y="581" width="61" height="26" rx="3" class="f1"/><text x="718.5" y="590" class="s8">力的合成</text><text x="718.5" y="600" class="s5">必修1第三章</text></g>
<g id="fc-1"><rect x="342" y="621" width="35" height="12" rx="3" class="f2"/><text x="359.5" y="627" class="s7">波的形成</text></g>
<g id="fc-2"><rect x="342" y="634" width="35" height="11" rx="3" class="f2"/><text x="359.5" y="639.5" class="s7">波的描述</text></g>
<g id="fc-3"><rect x="342" y="646" width="43" height="22" rx="3" class="f2"/><text x="363.5" y="652" class="s75">波的反射、</text><text x="363.5" y="662.5" class="s75">折射和衍射</text></g>
<g id="fc-4"><rect x="342" y="670" width="35" height="11" rx="3" class="f2"/><text x="359.5" y="675.5" class="s7">波的干涉</text></g>
<g id="fc-5"><rect x="342" y="683" width="43" height="12" rx="3" class="f2"/><text x="363.5" y="689" class="s75">多普勒效应</text></g>
<g id="fc-6"><rect x="404" y="619" width="51" height="29" rx="3" class="f2"/><text x="429.5" y="626" class="s75">简谐运动</text><text x="429.5" y="636" class="s45">(2021河北卷第16题、</text><text x="429.5" y="642.5" class="s45">2021江苏卷第4题)</text></g>
<g id="fc-7"><rect x="404" y="652" width="24" height="10" rx="3" class="f2"/><text x="416" y="657" class="s75">单摆</text></g>
<g id="fc-8"><rect x="404" y="665" width="56" height="11" rx="3" class="f2"/><text x="432" y="670.5" class="s7">受迫振动、共振</text></g>
<g id="fc-9"><rect x="472" y="643" width="31" height="12" rx="3" class="f2"/><text x="487.5" y="649" class="s75">等时圆</text></g>
<g id="fc-10"><rect x="472" y="657" width="39" height="10" rx="3" class="f2"/><text x="491.5" y="662" class="s75">弹簧分离</text></g>
<g id="fc-11"><rect x="472" y="669" width="43" height="11" rx="3" class="f2"/><text x="493.5" y="674.5" class="s75">弹簧质量块</text></g>
<g id="fc-12"><rect x="472" y="682" width="73" height="18" rx="3" class="f2"/><text x="508.5" y="686.5" class="s75">滑块-滑板模型分离</text><text x="508.5" y="695.5" class="s75">临界，相对运动</text></g>
<g id="fc-13"><rect x="472" y="702" width="43" height="11" rx="3" class="f2"/><text x="493.5" y="707.5" class="s75">超失重问题</text></g>
<g id="fc-14"><rect x="472" y="715" width="43" height="11" rx="3" class="f2"/><text x="493.5" y="720.5" class="s75">传送带模型</text></g>
<g id="fc-15"><rect x="550" y="603" width="51" height="20" rx="3" class="f2"/><text x="575.5" y="608.5" class="s75">轻绳的死结、</text><text x="575.5" y="617.5" class="s75">活结模型</text></g>
<g id="fc-16"><rect x="550" y="627" width="51" height="21" rx="3" class="f2"/><text x="575.5" y="633" class="s75">弹簧突变，</text><text x="575.5" y="642" class="s75">绳子不突变</text></g>
<g id="fc-17"><rect x="550" y="652" width="56" height="20" rx="3" class="f2"/><text x="578" y="657.5" class="s75">铰链杆和无铰</text><text x="578" y="666.5" class="s75">链杆问题</text></g>
<g id="fc-18"><rect x="626" y="601" width="41" height="21" rx="3" class="f2"/><text x="646.5" y="607" class="s75">先整体，</text><text x="646.5" y="616" class="s75">再隔离</text></g>
<g id="fc-19"><rect x="626" y="625" width="41" height="20" rx="3" class="f2"/><text x="646.5" y="630.5" class="s75">先隔离，</text><text x="646.5" y="639.5" class="s75">再整体</text></g>
<g id="fc-20"><rect x="698" y="623" width="45" height="11" rx="3" class="f2"/><text x="720.5" y="628.5" class="s75">旋转三角形</text></g>
<g id="fc-21"><rect x="698" y="636" width="45" height="11" rx="3" class="f2"/><text x="720.5" y="641.5" class="s75">相似三角形</text></g>
<g id="fc-22"><rect x="698" y="648" width="37" height="11" rx="3" class="f2"/><text x="716.5" y="653.5" class="s75">正弦定理</text></g>
<g id="fc-23"><rect x="698" y="661" width="29" height="11" rx="3" class="f2"/><text x="712.5" y="666.5" class="s75">摩擦力</text></g>
<g id="fc-24"><rect x="698" y="674" width="45" height="11" rx="3" class="f2"/><text x="720.5" y="679.5" class="s75">晾衣杆问题</text></g>
<g id="fc-25"><rect x="698" y="687" width="64" height="28" rx="3" class="f2"/><text x="702" y="693" class="s75 st">合成中的两类最</text><text x="702" y="702" class="s75 st">小值问题</text><text x="702" y="710.5" class="s5 st">(2022广东卷第1题)</text></g>

<g id="note"><rect x="470" y="755" width="147" height="23" rx="4" fill="none" stroke="#e6e6e6" stroke-width="1.2"/><text x="476" y="762" class="s7 st">注：本图中提到的必修、选择性必修均为人</text><text x="476" y="771" class="s7 st">民教育出版教材。</text></g>
</svg>
